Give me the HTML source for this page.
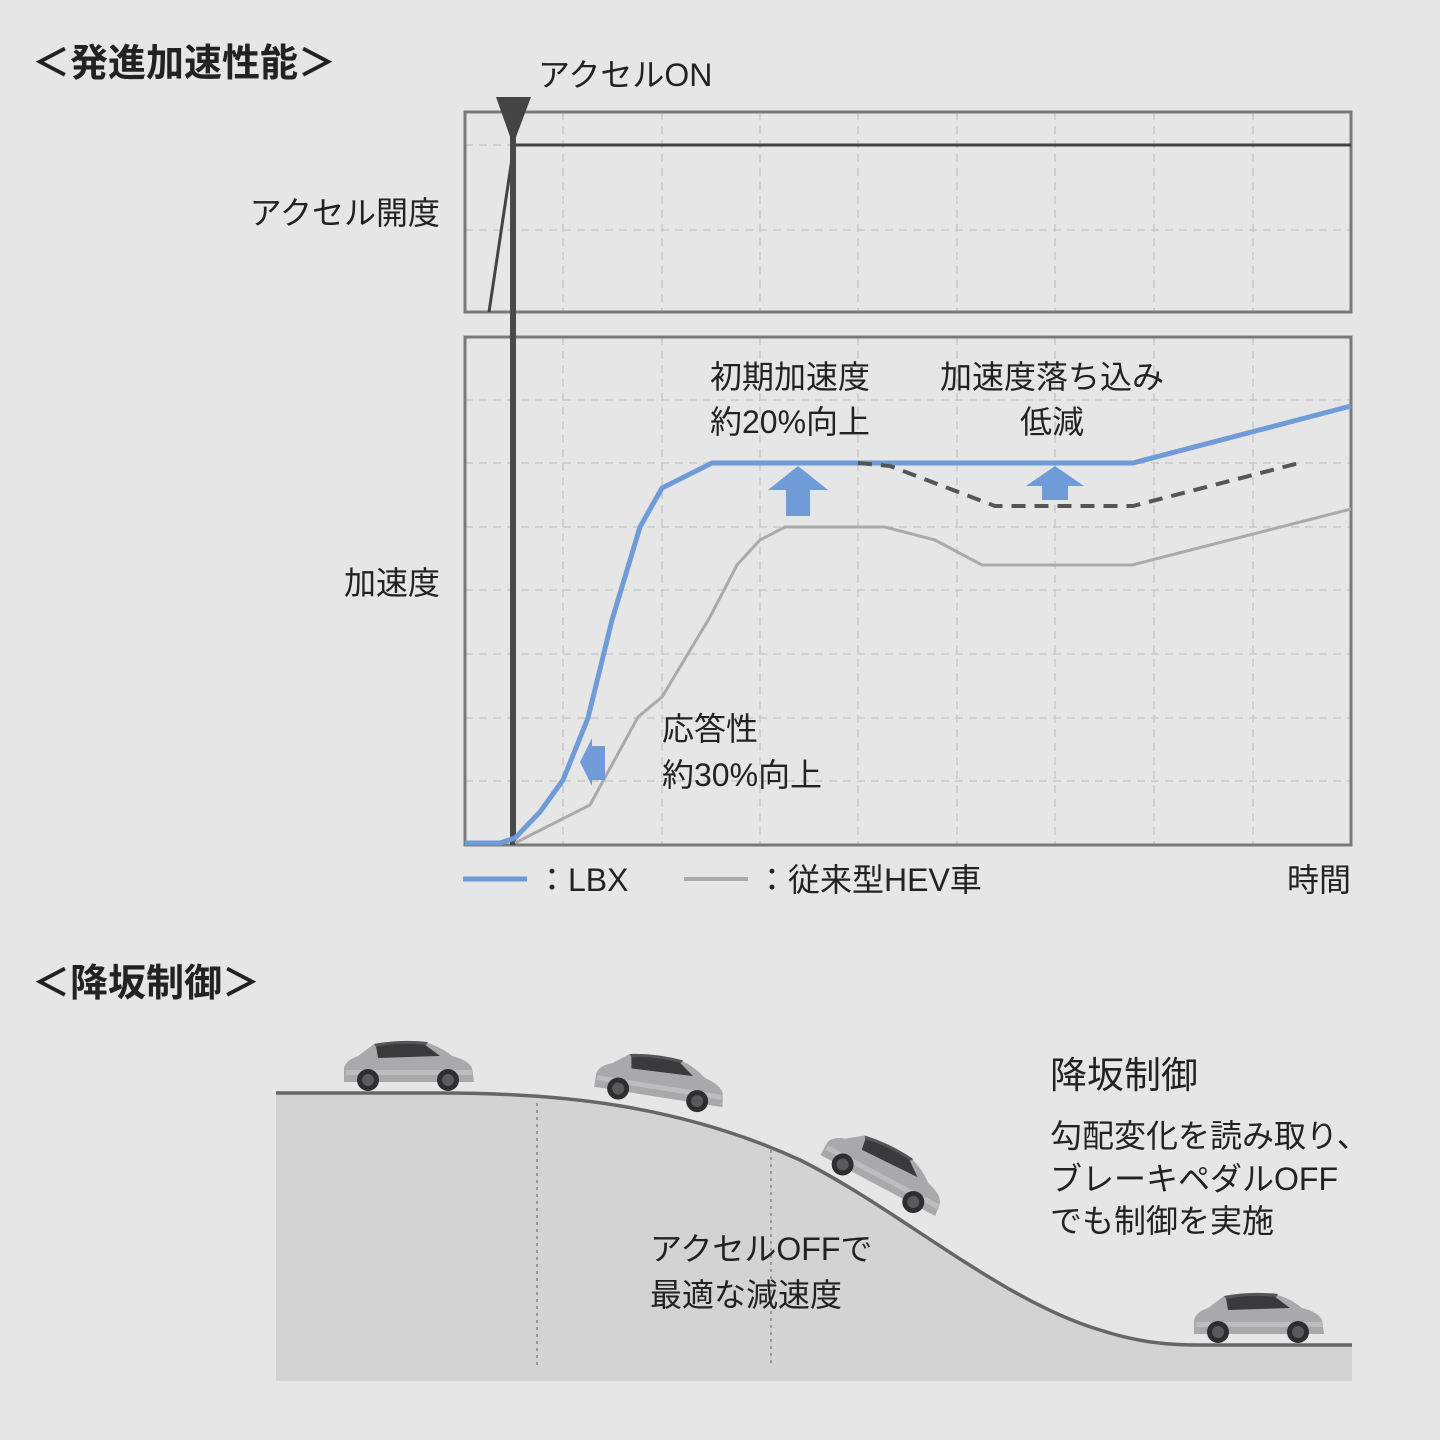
<!DOCTYPE html>
<html><head><meta charset="utf-8"><style>
html,body{margin:0;padding:0;background:#e6e6e6;}
svg{display:block}
text{font-family:"Liberation Sans","Noto Sans CJK JP",sans-serif;fill:#222;}
</style></head><body>
<svg width="1440" height="1440" viewBox="0 0 1440 1440" xmlns="http://www.w3.org/2000/svg">
<defs>
<symbol id="car" viewBox="0 0 136 52">
<path d="M4 42 L4 28 Q6 20 18 16 L34 4 Q60 0 84 2 Q100 6 112 16 Q128 20 132 28 L134 42 Z" fill="#a9a9ab"/>
<path d="M36 6 Q60 2 84 4 L100 16 L38 18 Z" fill="#3a3a3c"/>
<path d="M34 4 Q60 -1 88 2 L86 5 Q60 2 36 7 Z" fill="#555"/>
<rect x="6" y="30" width="126" height="5" fill="#bdbdbf"/>
<circle cx="28" cy="40" r="11" fill="#2e2e30"/><circle cx="28" cy="40" r="6" fill="#5a5a5c"/>
<circle cx="108" cy="40" r="11" fill="#2e2e30"/><circle cx="108" cy="40" r="6" fill="#5a5a5c"/>
</symbol>
</defs>
<rect width="1440" height="1440" fill="#e6e6e6"/>
<text x="32" y="76" font-size="38" font-weight="bold" fill="#222">＜発進加速性能＞</text>
<text x="538" y="86" font-size="32">アクセルON</text>
<g stroke="#c8c8c8" stroke-width="1.5" stroke-dasharray="8 6" fill="none">
<path d="M563 112V312M662 112V312M760 112V312M858 112V312M957 112V312M1055 112V312M1154 112V312M1253 112V312"/>
<path d="M465 145H1351M465 230H1351"/>
<path d="M563 337V845M662 337V845M760 337V845M858 337V845M957 337V845M1055 337V845M1154 337V845M1253 337V845"/>
<path d="M465 400H1351M465 463H1351M465 527H1351M465 590H1351M465 654H1351M465 718H1351M465 781H1351"/>
</g>
<rect x="465" y="112" width="886" height="200" fill="none" stroke="#7a7a7a" stroke-width="3"/>
<rect x="465" y="337" width="886" height="508" fill="none" stroke="#7a7a7a" stroke-width="3"/>
<text x="440" y="224" font-size="32" text-anchor="end">アクセル開度</text>
<text x="440" y="594" font-size="32" text-anchor="end">加速度</text>
<path d="M489 312 L514 145 H1351" stroke="#444" stroke-width="3" fill="none"/>
<path d="M513 100 V845" stroke="#4a4a4a" stroke-width="6"/>
<path d="M496 97 H531 L513 145 Z" fill="#444"/>
<polyline points="515,843 590,805 638,717 662,697 710,617 737,565 760,540 785,527 885,527 935,540 982,565 1132,565 1351,509" fill="none" stroke="#aaaaaa" stroke-width="3"/>
<polyline points="465,843 500,843 515,838 540,812 563,780 588,718 612,620 640,527 662,488 712,463 1133,463 1351,406" fill="none" stroke="#6f9bd8" stroke-width="5"/>
<polyline points="858,463 890,466 995,506 1133,506 1303,462" fill="none" stroke="#555" stroke-width="4" stroke-dasharray="14 9"/>
<path d="M798 466 L828 490 H810 V516 H786 V490 H768 Z" fill="#6f9bd8"/>
<path d="M1055 466 L1084 486 H1068 V500 H1042 V486 H1026 Z" fill="#6f9bd8"/>
<path d="M580 762 L592 738 V746 H605 V780 H592 V786 Z" fill="#6f9bd8"/>
<text x="710" y="388" font-size="32">初期加速度</text>
<text x="710" y="433" font-size="32">約20%向上</text>
<text x="1052" y="388" font-size="32" text-anchor="middle">加速度落ち込み</text>
<text x="1052" y="433" font-size="32" text-anchor="middle">低減</text>
<text x="662" y="740" font-size="32">応答性</text>
<text x="662" y="786" font-size="32">約30%向上</text>
<path d="M463 879 H527" stroke="#6f9bd8" stroke-width="5"/>
<text x="536" y="891" font-size="32">：LBX</text>
<path d="M684 879 H748" stroke="#aaaaaa" stroke-width="4"/>
<text x="756" y="891" font-size="32">：従来型HEV車</text>
<text x="1351" y="891" font-size="32" text-anchor="end">時間</text>
<text x="32" y="996" font-size="38" font-weight="bold">＜降坂制御＞</text>
<path d="M276 1093 H440 C560 1093 680 1105 800 1160 C900 1210 1000 1300 1100 1330 C1140 1343 1170 1345 1200 1345 H1352 V1381 H276 Z" fill="#d3d3d3"/>
<path d="M276 1093 H440 C560 1093 680 1105 800 1160 C900 1210 1000 1300 1100 1330 C1140 1343 1170 1345 1200 1345 H1352" fill="none" stroke="#666" stroke-width="3.5"/>
<path d="M537 1103 V1365 M771 1150 V1365" stroke="#999" stroke-width="2" stroke-dasharray="3 4"/>
<use href="#car" x="340" y="1040" width="136" height="52"/>
<g transform="rotate(9 660 1080)"><use href="#car" x="592" y="1055" width="136" height="52"/></g>
<g transform="rotate(28 885 1170)"><use href="#car" x="817" y="1145" width="136" height="52"/></g>
<use href="#car" x="1190" y="1292" width="136" height="52"/>
<text x="650" y="1260" font-size="32" fill="#333">アクセルOFFで</text>
<text x="650" y="1306" font-size="32" fill="#333">最適な減速度</text>
<text x="1050" y="1088" font-size="37">降坂制御</text>
<text x="1050" y="1147" font-size="32">勾配変化を読み取り、</text>
<text x="1050" y="1190" font-size="32">ブレーキペダルOFF</text>
<text x="1050" y="1232" font-size="32">でも制御を実施</text>
</svg>
</body></html>
